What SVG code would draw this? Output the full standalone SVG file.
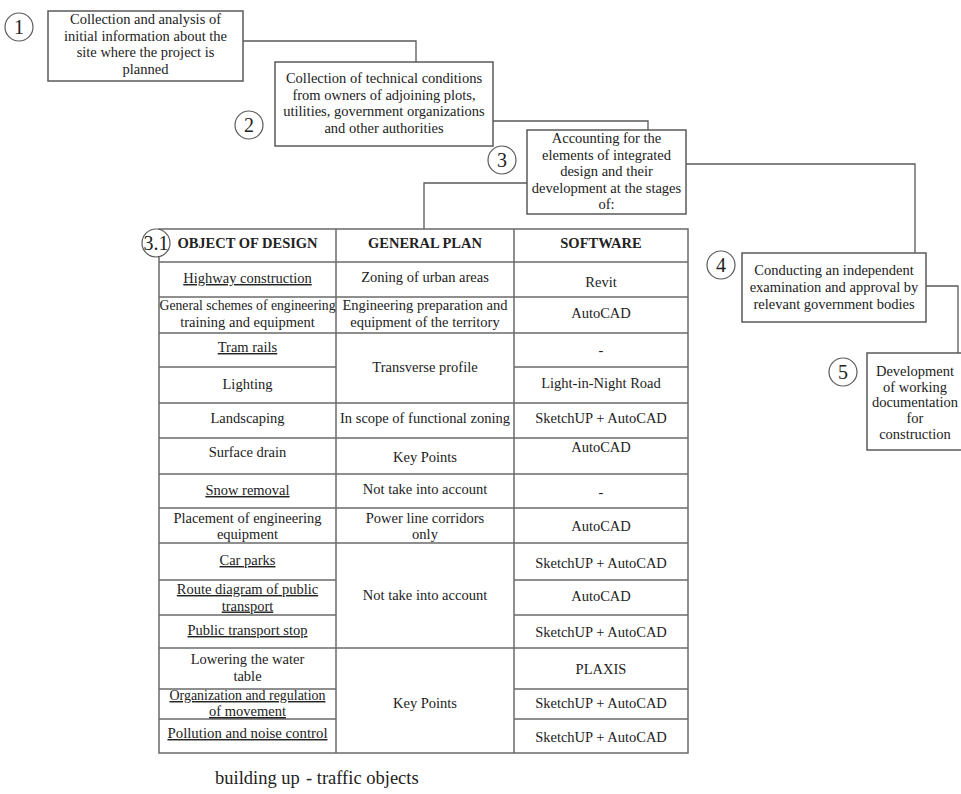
<svg xmlns="http://www.w3.org/2000/svg" width="961" height="794" viewBox="0 0 961 794">
<style>
.bg{fill:#fff}
.box{fill:#fff;stroke:#5a5a5a;stroke-width:1.5}
.circ{fill:#fff;stroke:#5a5a5a;stroke-width:1.2}
.conn{fill:none;stroke:#5a5a5a;stroke-width:1.3}
.grid{fill:none;stroke:#6a6a6a;stroke-width:1.5}
text{font-family:"Liberation Serif","Times New Roman",serif;fill:#222}
.t{font-size:14.5px;text-anchor:middle}
.num{font-size:20px;text-anchor:middle}
.hd{font-size:14.5px;font-weight:bold;text-anchor:middle}
.u{text-decoration:underline}
.cap{font-size:18.5px}
</style>
<rect class="bg" x="0" y="0" width="961" height="794"/>

<g id="connectors">
<polyline class="conn" points="243,41 416,41 416,62"/>
<polyline class="conn" points="493,121 648,121 648,130"/>
<polyline class="conn" points="527,183 424,183 424,229"/>
<polyline class="conn" points="686,164 915,164 915,253"/>
<polyline class="conn" points="926,286 958,286 958,353"/>
</g>

<g id="node1">
<circle class="circ" cx="19" cy="27" r="14"/>
<text class="num" x="19" y="34">1</text>
<rect class="box" x="48" y="11" width="195" height="70"/>
<text class="t" x="145.5" y="24">Collection and analysis of</text>
<text class="t" x="145.5" y="40.5">initial information about the</text>
<text class="t" x="145.5" y="57">site where the project is</text>
<text class="t" x="145.5" y="73.5">planned</text>
</g>

<g id="node2">
<circle class="circ" cx="249" cy="125" r="14"/>
<text class="num" x="249" y="132">2</text>
<rect class="box" x="275" y="62" width="218" height="84"/>
<text class="t" x="384" y="83">Collection of technical conditions</text>
<text class="t" x="384" y="99.5">from owners of adjoining plots,</text>
<text class="t" x="384" y="116">utilities, government organizations</text>
<text class="t" x="384" y="132.5">and other authorities</text>
</g>

<g id="node3">
<circle class="circ" cx="502" cy="160" r="14"/>
<text class="num" x="502" y="167">3</text>
<rect class="box" x="527" y="130" width="159" height="84"/>
<text class="t" x="606.5" y="143">Accounting for the</text>
<text class="t" x="606.5" y="159.5">elements of integrated</text>
<text class="t" x="606.5" y="176">design and their</text>
<text class="t" x="606.5" y="192.5">development at the stages</text>
<text class="t" x="606.5" y="209">of:</text>
</g>

<g id="node4">
<circle class="circ" cx="721" cy="265" r="14"/>
<text class="num" x="721" y="272">4</text>
<rect class="box" x="742" y="253" width="184" height="69"/>
<text class="t" x="834" y="274.5">Conducting an independent</text>
<text class="t" x="834" y="291.5">examination and approval by</text>
<text class="t" x="834" y="308.5">relevant government bodies</text>
</g>

<g id="node5">
<circle class="circ" cx="843" cy="372" r="14"/>
<text class="num" x="843" y="379">5</text>
<rect class="box" x="867" y="353" width="97" height="97"/>
<text class="t" x="915" y="376">Development</text>
<text class="t" x="915" y="391.5">of working</text>
<text class="t" x="915" y="407">documentation</text>
<text class="t" x="915" y="423">for</text>
<text class="t" x="915" y="439">construction</text>
</g>

<g id="table31">
<rect class="grid" x="159" y="229" width="529" height="524"/>
<line class="grid" x1="336" y1="229" x2="336" y2="753"/>
<line class="grid" x1="514" y1="229" x2="514" y2="753"/>
<line class="grid" x1="159" y1="262" x2="688" y2="262"/>
<line class="grid" x1="159" y1="297" x2="688" y2="297"/>
<line class="grid" x1="159" y1="333" x2="688" y2="333"/>
<line class="grid" x1="159" y1="403" x2="688" y2="403"/>
<line class="grid" x1="159" y1="438" x2="688" y2="438"/>
<line class="grid" x1="159" y1="474" x2="688" y2="474"/>
<line class="grid" x1="159" y1="508" x2="688" y2="508"/>
<line class="grid" x1="159" y1="543" x2="688" y2="543"/>
<line class="grid" x1="159" y1="648" x2="688" y2="648"/>
<line class="grid" x1="159" y1="367" x2="336" y2="367"/>
<line class="grid" x1="514" y1="367" x2="688" y2="367"/>
<line class="grid" x1="159" y1="580" x2="336" y2="580"/>
<line class="grid" x1="514" y1="580" x2="688" y2="580"/>
<line class="grid" x1="159" y1="615" x2="336" y2="615"/>
<line class="grid" x1="514" y1="615" x2="688" y2="615"/>
<line class="grid" x1="159" y1="689" x2="336" y2="689"/>
<line class="grid" x1="514" y1="689" x2="688" y2="689"/>
<line class="grid" x1="159" y1="719" x2="336" y2="719"/>
<line class="grid" x1="514" y1="719" x2="688" y2="719"/>

<text class="hd" x="247.5" y="248">OBJECT OF DESIGN</text>
<text class="hd" x="425" y="248">GENERAL PLAN</text>
<text class="hd" x="601" y="248">SOFTWARE</text>

<text class="t u" x="247.5" y="283">Highway construction</text>
<text class="t" x="425" y="282">Zoning of urban areas</text>
<text class="t" x="601" y="286.5">Revit</text>

<text class="t" x="247.5" y="310" textLength="176" lengthAdjust="spacingAndGlyphs">General schemes of engineering</text>
<text class="t" x="247.5" y="326.5">training and equipment</text>
<text class="t" x="425" y="310">Engineering preparation and</text>
<text class="t" x="425" y="326.5">equipment of the territory</text>
<text class="t" x="601" y="318">AutoCAD</text>

<text class="t u" x="247.5" y="352">Tram rails</text>
<text class="t" x="425" y="372">Transverse profile</text>
<text class="t" x="601" y="354.5">-</text>

<text class="t" x="247.5" y="389">Lighting</text>
<text class="t" x="601" y="388">Light-in-Night Road</text>

<text class="t" x="247.5" y="423">Landscaping</text>
<text class="t" x="425" y="423">In scope of functional zoning</text>
<text class="t" x="601" y="423">SketchUP + AutoCAD</text>

<text class="t" x="247.5" y="457">Surface drain</text>
<text class="t" x="425" y="462">Key Points</text>
<text class="t" x="601" y="452">AutoCAD</text>

<text class="t u" x="247.5" y="495">Snow removal</text>
<text class="t" x="425" y="494">Not take into account</text>
<text class="t" x="601" y="496.5">-</text>

<text class="t" x="247.5" y="522.5">Placement of engineering</text>
<text class="t" x="247.5" y="538.5">equipment</text>
<text class="t" x="425" y="522.5">Power line corridors</text>
<text class="t" x="425" y="539">only</text>
<text class="t" x="601" y="531">AutoCAD</text>

<text class="t u" x="247.5" y="565">Car parks</text>
<text class="t" x="601" y="568">SketchUP + AutoCAD</text>

<text class="t u" x="247.5" y="594">Route diagram of public</text>
<text class="t u" x="247.5" y="610.5">transport</text>
<text class="t" x="425" y="600">Not take into account</text>
<text class="t" x="601" y="601">AutoCAD</text>

<text class="t u" x="247.5" y="635">Public transport stop</text>
<text class="t" x="601" y="637">SketchUP + AutoCAD</text>

<text class="t" x="247.5" y="664">Lowering the water</text>
<text class="t" x="247.5" y="681">table</text>
<text class="t" x="601" y="674">PLAXIS</text>

<text class="t u" x="247.5" y="700" textLength="156" lengthAdjust="spacingAndGlyphs">Organization and regulation</text>
<text class="t u" x="247.5" y="716">of movement</text>
<text class="t" x="425" y="708">Key Points</text>
<text class="t" x="601" y="708">SketchUP + AutoCAD</text>

<text class="t u" x="247.5" y="738" textLength="160" lengthAdjust="spacingAndGlyphs">Pollution and noise control</text>
<text class="t" x="601" y="742">SketchUP + AutoCAD</text>

<circle class="circ" cx="156" cy="243" r="14"/>
<text class="num" x="156" y="250">3.1</text>
</g>

<g id="caption">
<text class="cap" x="215" y="784">building up</text>
<text class="cap" x="306" y="784">- traffic objects</text>
</g>
</svg>
